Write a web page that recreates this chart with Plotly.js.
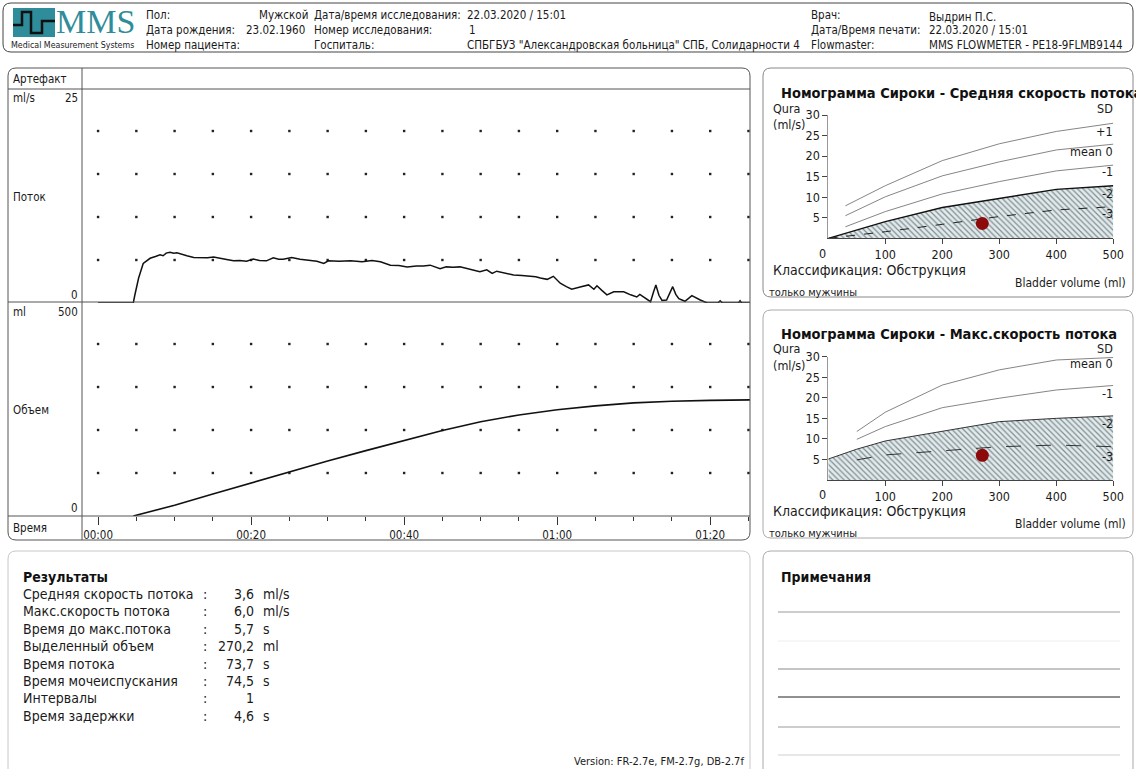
<!DOCTYPE html>
<html>
<head>
<meta charset="utf-8">
<script src="https://cdn.plot.ly/plotly-3.0.1.min.js"></script>
<style>
  html, body { margin: 0; padding: 0; background: #fff; }
  #report { width: 1136px; height: 769px; }
</style>
</head>
<body>
<div id="report"></div>
<script>
// ---- Uroflowmetry record ----
const flowTime = [0, 4.6, 4.8, 5.3, 5.9, 6.8, 7.5, 8.1, 8.5, 8.9, 9.4, 9.9, 10.3, 10.9, 11.6, 12.5, 13.5, 14.3, 15.1, 15.9,
  16.8, 17.7, 18.5, 19.4, 20.3, 21.1, 22.0, 22.9, 23.6, 24.2, 25.3, 26.4, 27.5, 28.6, 29.5, 30.1, 31.5, 33.0, 34.5, 35.8,
  36.9, 38.2, 39.3, 40.4, 41.6, 42.5, 43.4, 44.7, 45.5, 46.4, 47.3, 48.2, 49.1, 49.9, 50.8, 51.5, 52.1, 53.2, 54.3, 55.4,
  56.4, 57.2, 57.8, 58.7, 59.5, 60.4, 61.2, 61.9, 63.0, 64.1, 64.8, 65.2, 65.8, 66.5, 67.4, 68.0, 68.7, 69.6, 70.4, 70.8,
  71.5, 72.2, 72.6, 72.9, 73.3, 73.7, 74.3, 74.7, 75.1, 75.5, 75.9, 76.7, 77.6, 78.7, 79.6, 81.0, 81.3, 81.6, 83.7, 83.9,
  84.1, 85.2];
const flowRate = [0, 0, 0.9, 2.9, 4.6, 5.2, 5.4, 5.6, 5.5, 5.8, 5.9, 5.8, 5.85, 5.65, 5.5, 5.3, 5.3, 5.25, 5.35, 5.25,
  5.05, 4.9, 4.95, 4.85, 5.1, 4.95, 4.9, 5.25, 5.1, 5.1, 5.3, 5.1, 5.0, 4.85, 4.6, 4.9, 4.85, 4.9, 4.8, 4.95,
  4.8, 4.4, 4.35, 4.2, 4.3, 4.3, 4.4, 4.0, 4.2, 4.15, 4.2, 4.0, 3.85, 3.65, 3.85, 3.45, 3.7, 3.5, 3.25, 3.2,
  3.1, 3.05, 2.9, 2.75, 3.1, 2.3, 1.9, 1.6, 1.85, 2.1, 1.6, 2.0, 1.5, 0.95, 1.3, 1.3, 1.3, 0.95, 0.7, 1.0,
  0.55, 0.15, 1.3, 2.1, 0.9, 0.3, 0.35, 1.2, 1.9, 1.0, 0.5, 0.2, 0.85, 0.35, 0, 0, 0.25, 0, 0, 0.25,
  0, 0];
const volTime = [4.6, 10, 15, 20, 25, 30, 35, 40, 45, 50, 55, 60, 65, 70, 75, 80, 85.2];
const volume  = [0, 25, 51, 77, 103, 128, 152, 176, 199, 219, 235, 247, 256, 263, 267, 269, 270];

const timeTickVals = [0, 20, 40, 60, 80];
const timeTickText = ['00:00', '00:20', '00:40', '01:00', '01:20'];

// ---- Siroky nomograms (bladder volume in ml -> flow in ml/s) ----
const nomoVol = [30, 100, 200, 300, 400, 500];
const avgPlus1 = [7.9, 12.8, 18.9, 23.0, 26.0, 28.0];
const avgMean  = [5.5, 10.1, 15.2, 18.6, 21.5, 22.9];
const avgMinus1 = [2.8, 6.5, 10.8, 13.8, 16.4, 17.8];
const avgVolB = [0, 100, 200, 300, 400, 500];
const avgMinus2 = [0, 4.05, 7.5, 9.7, 11.9, 12.8];
const avgMinus3 = [0, 1.6, 3.4, 5.3, 6.9, 7.7];

const maxVol = [50, 100, 200, 300, 400, 500];
const maxMean = [11.8, 16.5, 23.1, 26.8, 29.2, 29.8];
const maxMinus1 = [9.9, 13.0, 17.6, 19.9, 21.9, 23.0];
const maxVolB = [0, 50, 100, 200, 300, 400, 500];
const maxMinus2 = [5.1, 7.5, 9.5, 11.9, 14.2, 15.0, 15.6];
const maxMinus3 = [4.9, 6.1, 7.1, 8.1, 8.5, 8.1];

const voidedVolume = 270.2;
const avgFlow = 3.6;
const maxFlow = 6.0;

// ---- Results table ----
const resultLabels = ['Средняя скорость потока', 'Макс.скорость потока', 'Время до макс.потока', 'Выделенный объем',
  'Время потока', 'Время мочеиспускания', 'Интервалы', 'Время задержки'];
const resultValues = ['3,6', '6,0', '5,7', '270,2', '73,7', '74,5', '1', '4,6'];
const resultUnits = ['ml/s', 'ml/s', 's', 'ml', 's', 's', '', 's'];

// ---- page geometry helpers (pixels -> paper fractions) ----
const W = 1136, H = 769;
const X = p => p / W;
const Y = p => 1 - p / H;
const FONT = '"DejaVu Sans Condensed", "DejaVu Sans", sans-serif';
const INK = '#1a1a1a';

function txt(x, y, s, o) {
  o = o || {};
  return {
    xref: 'paper', yref: 'paper', x: X(x), y: Y(y), text: s, showarrow: false,
    xanchor: o.anchor || 'left', yanchor: 'middle', borderpad: 0,
    font: { family: o.family || FONT, size: o.size || 11.5, color: o.color || INK, weight: o.weight || 'normal' }
  };
}
function rrect(x0, y0, x1, y1, r, color, width) {
  const p = `M${X(x0 + r)},${Y(y0)} L${X(x1 - r)},${Y(y0)} Q${X(x1)},${Y(y0)} ${X(x1)},${Y(y0 + r)} ` +
    `L${X(x1)},${Y(y1 - r)} Q${X(x1)},${Y(y1)} ${X(x1 - r)},${Y(y1)} L${X(x0 + r)},${Y(y1)} ` +
    `Q${X(x0)},${Y(y1)} ${X(x0)},${Y(y1 - r)} L${X(x0)},${Y(y0 + r)} Q${X(x0)},${Y(y0)} ${X(x0 + r)},${Y(y0)} Z`;
  return { type: 'path', xref: 'paper', yref: 'paper', path: p, line: { color: color, width: width || 1 } };
}
function hline(x0, x1, y, color, width) {
  return { type: 'line', xref: 'paper', yref: 'paper', x0: X(x0), x1: X(x1), y0: Y(y), y1: Y(y),
    line: { color: color, width: width || 1 } };
}
function vline(x, y0, y1, color, width) {
  return { type: 'line', xref: 'paper', yref: 'paper', x0: X(x), x1: X(x), y0: Y(y0), y1: Y(y1),
    line: { color: color, width: width || 1 } };
}

// dotted grid at the axis divisions
function dotGrid(xs, ys, xa, ya) {
  const gx = [], gy = [];
  xs.forEach(a => ys.forEach(b => { gx.push(a); gy.push(b); }));
  return { x: gx, y: gy, xaxis: xa, yaxis: ya, type: 'scatter', mode: 'markers', hoverinfo: 'skip',
    marker: { symbol: 'square', size: 2.4, color: '#222' } };
}
const gridTimes = [];
for (let t = 0; t <= 85; t += 5) gridTimes.push(t);

const traces = [
  dotGrid(gridTimes, [5, 10, 15, 20], 'x2', 'y2'),
  dotGrid(gridTimes, [100, 200, 300, 400], 'x', 'y'),
  { x: flowTime, y: flowRate, xaxis: 'x2', yaxis: 'y2', type: 'scatter', mode: 'lines',
    line: { color: '#111', width: 1.5 } },
  { x: volTime, y: volume, xaxis: 'x', yaxis: 'y', type: 'scatter', mode: 'lines',
    line: { color: '#111', width: 1.6 } },

  // average flow nomogram
  { x: avgVolB, y: avgMinus2, xaxis: 'x3', yaxis: 'y3', type: 'scatter', mode: 'lines', fill: 'tozeroy',
    fillcolor: '#e2eaec',
    fillpattern: { shape: '\\', bgcolor: '#e2eaec', fgcolor: '#7f8e93', size: 4, solidity: 0.3 },
    line: { color: '#111', width: 1.4 } },
  { x: nomoVol, y: avgPlus1, xaxis: 'x3', yaxis: 'y3', mode: 'lines', line: { color: '#777', width: 0.9 } },
  { x: nomoVol, y: avgMean, xaxis: 'x3', yaxis: 'y3', mode: 'lines', line: { color: '#777', width: 0.9 } },
  { x: nomoVol, y: avgMinus1, xaxis: 'x3', yaxis: 'y3', mode: 'lines', line: { color: '#777', width: 0.9 } },
  { x: avgVolB, y: avgMinus3, xaxis: 'x3', yaxis: 'y3', mode: 'lines', line: { color: '#222', width: 1, dash: 'dash' } },
  { x: [voidedVolume], y: [avgFlow], xaxis: 'x3', yaxis: 'y3', mode: 'markers',
    marker: { size: 13, color: '#8c0a0a' } },

  // maximum flow nomogram
  { x: maxVolB, y: maxMinus2, xaxis: 'x4', yaxis: 'y4', type: 'scatter', mode: 'lines', fill: 'tozeroy',
    fillcolor: '#e2eaec',
    fillpattern: { shape: '\\', bgcolor: '#e2eaec', fgcolor: '#7f8e93', size: 4, solidity: 0.3 },
    line: { color: '#333', width: 1 } },
  { x: maxVol, y: maxMean, xaxis: 'x4', yaxis: 'y4', mode: 'lines', line: { color: '#777', width: 0.9 } },
  { x: maxVol, y: maxMinus1, xaxis: 'x4', yaxis: 'y4', mode: 'lines', line: { color: '#777', width: 0.9 } },
  { x: maxVol, y: maxMinus3, xaxis: 'x4', yaxis: 'y4', mode: 'lines', line: { color: '#333', width: 1, dash: 'longdash' } },
  { x: [voidedVolume], y: [maxFlow], xaxis: 'x4', yaxis: 'y4', mode: 'markers',
    marker: { size: 13, color: '#8c0a0a' } }
];

const blankAxis = { showgrid: false, zeroline: false, showline: false, showticklabels: false, ticks: '', fixedrange: true };

function nomoX(anchor) {
  return { domain: [X(828.3), X(1113.3)], range: [0, 500], anchor: anchor, tickvals: [100, 200, 300, 400, 500],
    ticks: 'outside', ticklen: 5, tickcolor: '#444', showline: true, linecolor: '#444', linewidth: 1,
    showgrid: false, zeroline: false, tickfont: { family: FONT, size: 12.5, color: INK } };
}
function nomoY(anchor, top, bottom) {
  return { domain: [Y(bottom), Y(top)], range: [0, 30], anchor: anchor, tickvals: [5, 10, 15, 20, 25, 30],
    ticks: 'outside', ticklen: 5, tickcolor: '#444', showline: true, linecolor: '#999', linewidth: 1,
    showgrid: false, zeroline: false, ticklabelstandoff: 0, tickfont: { family: FONT, size: 12.5, color: INK } };
}

const layout = {
  width: W, height: H,
  margin: { l: 0, r: 0, t: 0, b: 0, pad: 0 },
  paper_bgcolor: '#fff', plot_bgcolor: 'rgba(0,0,0,0)',
  showlegend: false,
  xaxis: {
    domain: [X(82), X(750)], range: [-2.1, 85.2], anchor: 'y',
    tickvals: timeTickVals, ticktext: timeTickText, ticks: 'outside', ticklen: 8, tickcolor: '#333', tickwidth: 1,
    minor: { dtick: 5, tick0: 0, ticks: 'outside', ticklen: 4, tickcolor: '#333', showgrid: false },
    showgrid: false, zeroline: false, showline: false,
    tickfont: { family: FONT, size: 11.5, color: INK }
  },
  yaxis: Object.assign({}, blankAxis, { domain: [Y(516), Y(301)], range: [0, 500], anchor: 'x' }),
  xaxis2: Object.assign({}, blankAxis, { domain: [X(82), X(750)], range: [-2.1, 85.2], anchor: 'y2' }),
  yaxis2: Object.assign({}, blankAxis, { domain: [Y(303), Y(88)], range: [0, 25], anchor: 'x2' }),
  xaxis3: nomoX('y3'),
  yaxis3: nomoY('x3', 115, 238.3),
  xaxis4: nomoX('y4'),
  yaxis4: nomoY('x4', 356.7, 480),
  shapes: [],
  annotations: []
};

const S = layout.shapes, A = layout.annotations;

// panel frames
S.push(rrect(3, 3, 1133, 52, 8, '#444', 1));
S.push(rrect(8, 68, 750, 540, 8, '#555', 1));
S.push(rrect(763, 68, 1133, 297, 8, '#888', 1));
S.push(rrect(763, 310, 1133, 538, 8, '#aaa', 1));
S.push(rrect(8, 551, 750, 780, 8, '#c8c8c8', 1));
S.push(rrect(763, 551, 1133, 780, 8, '#aaa', 1));

// flow / volume chart dividers
S.push(hline(8, 750, 89, '#555', 1));
S.push(hline(8, 750, 302, '#555', 1.2));
S.push(hline(8, 750, 516, '#555', 1));
S.push(vline(82, 68, 540, '#555', 1));

// notes ruling
S.push(hline(778, 1120, 612, '#9a9a9a', 1));
S.push(hline(778, 1120, 641, '#eeeeee', 1));
S.push(hline(778, 1120, 669, '#8a8a8a', 1));
S.push(hline(778, 1120, 697, '#222', 1));
S.push(hline(778, 1120, 727, '#9a9a9a', 1));
S.push(hline(778, 1120, 755, '#d0d0d0', 1));

// logo
S.push({ type: 'rect', xref: 'paper', yref: 'paper', x0: X(13), x1: X(55), y0: Y(37), y1: Y(8),
  fillcolor: '#2f8d9b', line: { width: 0 } });
S.push({ type: 'path', xref: 'paper', yref: 'paper',
  path: `M${X(13)},${Y(25)} L${X(22)},${Y(25)} L${X(22)},${Y(12)} L${X(31)},${Y(12)} L${X(31)},${Y(33)} L${X(42)},${Y(33)} L${X(42)},${Y(21)} L${X(55)},${Y(21)}`,
  line: { color: '#111', width: 2.5 } });
A.push(txt(55, 22, 'MMS', { family: '"Liberation Serif", serif', size: 34, color: '#2f8d9b' }));
A.push(txt(10, 45, 'Medical Measurement Systems', { size: 8.8 }));

// header fields
A.push(txt(145, 15, 'Пол:'));
A.push(txt(145, 30, 'Дата рождения:'));
A.push(txt(145, 45, 'Номер пациента:'));
A.push(txt(258, 15, 'Мужской'));
A.push(txt(245, 30, '23.02.1960'));
A.push(txt(313, 15, 'Дата/время исследования:'));
A.push(txt(313, 30, 'Номер исследования:'));
A.push(txt(313, 45, 'Госпиталь:'));
A.push(txt(466, 15, '22.03.2020 / 15:01'));
A.push(txt(468, 30, '1'));
A.push(txt(466, 45, 'СПБГБУЗ "Александровская больница" СПБ, Солидарности 4'));
A.push(txt(810, 15, 'Врач:'));
A.push(txt(810, 30, 'Дата/Время печати:'));
A.push(txt(810, 45, 'Flowmaster:'));
A.push(txt(928, 17, 'Выдрин П.С.'));
A.push(txt(928, 30, '22.03.2020 / 15:01'));
A.push(txt(928, 45, 'MMS FLOWMETER - PE18-9FLMB9144'));

// chart row labels
A.push(txt(12, 79, 'Артефакт'));
A.push(txt(12, 98, 'ml/s'));
A.push(txt(79, 98, '25', { anchor: 'right' }));
A.push(txt(12, 197, 'Поток'));
A.push(txt(79, 295, '0', { anchor: 'right' }));
A.push(txt(12, 312, 'ml'));
A.push(txt(79, 312, '500', { anchor: 'right' }));
A.push(txt(12, 410, 'Объем'));
A.push(txt(79, 508, '0', { anchor: 'right' }));
A.push(txt(12, 528, 'Время'));

// nomogram texts
function nomoText(top, title, sdLabels) {
  A.push(txt(780, top + 25, title, { size: 14.5, weight: 'bold', color: '#111' }));
  A.push(txt(772, top + 40, 'Qura', { size: 12.5 }));
  A.push(txt(772, top + 56, '(ml/s)', { size: 12.5 }));
  A.push(txt(818, top + 185, '0', { size: 12.5 }));
  sdLabels.forEach(l => A.push(txt(1114, top + l[1], l[0], { anchor: 'right', size: 12.5 })));
  A.push(txt(772, top + 202, 'Классификация: Обструкция', { size: 14 }));
  A.push(txt(1127, top + 215, 'Bladder volume (ml)', { anchor: 'right', size: 12 }));
  A.push(txt(768, top + 224, 'только мужчины', { size: 11 }));
}
nomoText(68, 'Номограмма Сироки - Средняя скорость потока',
  [['SD', 40], ['+1', 64], ['mean 0', 84], ['-1', 104], ['-2', 125], ['-3', 145]]);
nomoText(309, 'Номограмма Сироки - Макс.скорость потока',
  [['SD', 40], ['mean 0', 55], ['-1', 85], ['-2', 115], ['-3', 147]]);

// results
A.push(txt(22, 577, 'Результаты', { size: 14, weight: 'bold', color: '#111' }));
resultLabels.forEach((lab, i) => {
  const y = 594 + i * 17.4;
  A.push(txt(22, y, lab, { size: 14 }));
  A.push(txt(202, y, ':', { size: 14 }));
  A.push(txt(255, y, resultValues[i], { anchor: 'right', size: 14 }));
  if (resultUnits[i]) A.push(txt(262, y, resultUnits[i], { size: 14 }));
});
A.push(txt(745, 761, 'Version: FR-2.7e, FM-2.7g, DB-2.7f', { anchor: 'right', size: 11 }));

// notes
A.push(txt(780, 577, 'Примечания', { size: 14, weight: 'bold', color: '#111' }));

Plotly.newPlot('report', traces, layout, { staticPlot: true, displayModeBar: false });
</script>
</body>
</html>
